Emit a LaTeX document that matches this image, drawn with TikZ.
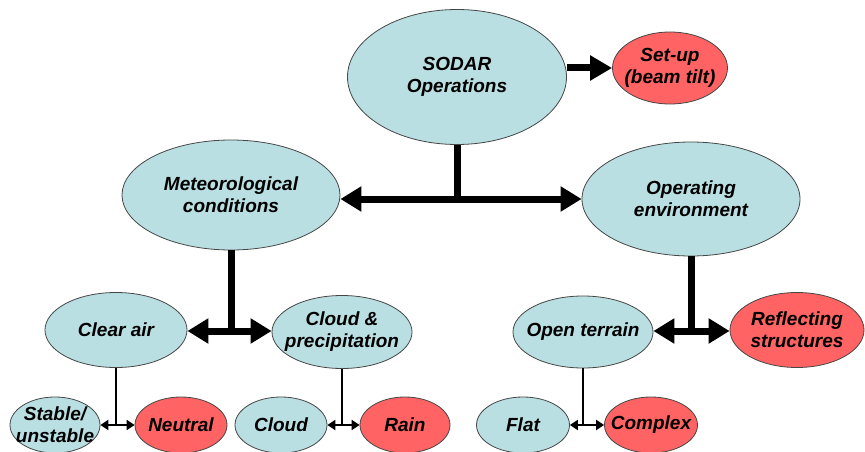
\documentclass[tikz,border=0pt]{standalone}
\usepackage{fontspec}
\setmainfont{Liberation Sans}
\usetikzlibrary{shapes.geometric,arrows.meta}
\definecolor{bubblue}{RGB}{185,223,226}
\definecolor{bubred}{RGB}{255,99,99}
\definecolor{rimgray}{RGB}{70,70,70}

\begin{document}
\begin{tikzpicture}[x=1pt,y=-1pt,
  bub/.style={ellipse, draw=rimgray, line width=0.8pt, fill=#1, inner sep=0pt},
  txt/.style={font=\fontsize{19}{22}\selectfont\bfseries\itshape, align=center},
  fat/.style={line width=7pt},
  fatend/.style={fat, -{Triangle[length=22pt,width=24pt]}},
  fatboth/.style={fat, {Triangle[length=21pt,width=24pt]}-{Triangle[length=21pt,width=24pt]}},
  slim/.style={line width=2.5pt},
  slimboth/.style={slim, {Triangle[length=8pt,width=10pt]}-{Triangle[length=8pt,width=10pt]}}]
\fill[white] (0,0) rectangle (865,452);
\useasboundingbox (0,0) rectangle (865,452);
\node[bub=bubblue, minimum width=219pt, minimum height=135pt,%
  label={[txt]center:SODAR\\Operations}] (sodar) at (457,77) {};
\node[bub=bubred, minimum width=115pt, minimum height=72pt,%
  label={[txt]center:Set-up\\(beam tilt)}] (setup) at (670,68) {};
\node[bub=bubblue, minimum width=218pt, minimum height=110pt,%
  label={[txt]center:Meteorological\\conditions}] (met) at (231,195) {};
\node[bub=bubblue, minimum width=218pt, minimum height=114pt,%
  label={[txt]center:Operating\\environment}] (oper) at (691,199) {};
\node[bub=bubblue, minimum width=142pt, minimum height=75pt,%
  label={[txt]center:Clear air}] (clear) at (116,330) {};
\node[bub=bubblue, minimum width=140pt, minimum height=73pt,%
  label={[txt]center:Cloud \&\\precipitation}] (cloudp) at (342,332) {};
\node[bub=bubblue, minimum width=140pt, minimum height=72pt,%
  label={[txt]center:Open terrain}] (openter) at (583,332) {};
\node[bub=bubred, minimum width=134pt, minimum height=75pt,%
  label={[txt]center:Reflecting\\structures}] (reflect) at (797,330) {};
\node[bub=bubblue, minimum width=90pt, minimum height=56pt,%
  label={[txt]center:Stable/\\unstable}] (stable) at (55,425) {};
\node[bub=bubred, minimum width=92pt, minimum height=56pt,%
  label={[txt]center:Neutral}] (neutral) at (181,425) {};
\node[bub=bubblue, minimum width=92pt, minimum height=56pt,%
  label={[txt]center:Cloud}] (cloud) at (281,425) {};
\node[bub=bubred, minimum width=90pt, minimum height=56pt,%
  label={[txt]center:Rain}] (rain) at (405,425) {};
\node[bub=bubblue, minimum width=93pt, minimum height=56pt,%
  label={[txt]center:Flat}] (flat) at (523,425) {};
\node[bub=bubred, minimum width=93pt, minimum height=56pt,%
  label={[txt]center:Complex}] (complex) at (651,425) {};
\draw[fatend] (sodar.east |- setup.west) -- (setup.west);
\coordinate (j1) at (457,199);
\draw[fat] (sodar.south) -- (j1);
\draw[fatboth] (met.east |- j1) -- (oper.west |- j1);
\coordinate (j2) at (231,331);
\draw[fat] (met.south) -- (j2);
\draw[fatboth] (clear.east |- j2) -- (cloudp.west |- j2);
\coordinate (j3) at (691,331);
\draw[fat] (oper.south) -- (j3);
\draw[fatboth] (openter.east |- j3) -- (reflect.west |- j3);
\draw[slim] (clear.south) -- (clear.south |- stable.east);
\draw[slimboth] (stable.east) -- (neutral.west);
\draw[slim] (cloudp.south) -- (cloudp.south |- cloud.east);
\draw[slimboth] (cloud.east) -- (rain.west);
\draw[slim] (openter.south) -- (openter.south |- flat.east);
\draw[slimboth] (flat.east) -- (complex.west);
\end{tikzpicture}
\end{document}
